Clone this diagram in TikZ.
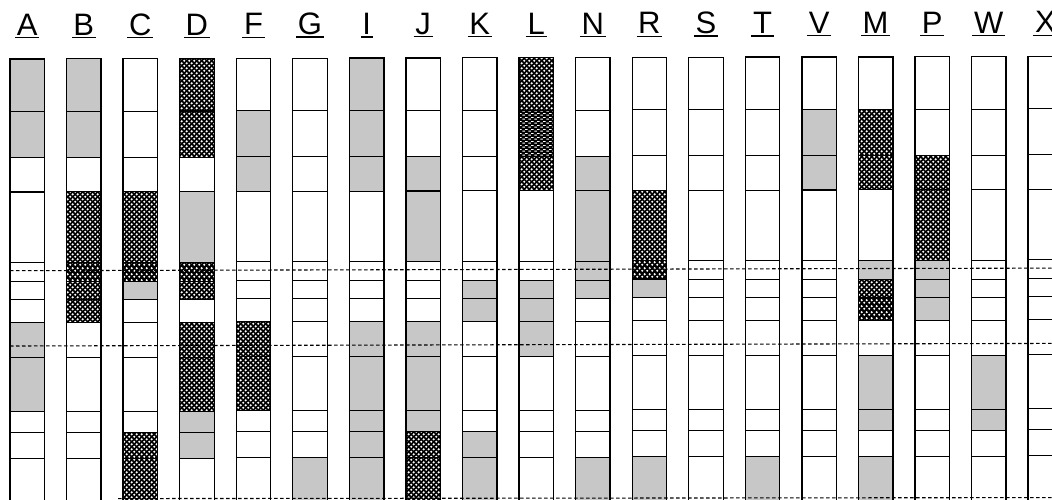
\documentclass[tikz,border=0pt]{standalone}
\usepackage{fontspec}
\setmainfont{Liberation Sans}
\usetikzlibrary{patterns}
\pgfdeclarepatternformonly{checkdots}{\pgfqpoint{0pt}{0pt}}{\pgfqpoint{5.4pt}{5.4pt}}{\pgfqpoint{5.4pt}{5.4pt}}{%
  \pgfpathcircle{\pgfqpoint{1.35pt}{1.35pt}}{1.3pt}%
  \pgfpathcircle{\pgfqpoint{4.05pt}{4.05pt}}{1.3pt}%
  \pgfusepath{fill}}
\pgfdeclarepatternformonly{darkdash}{\pgfqpoint{0pt}{0pt}}{\pgfqpoint{6pt}{4pt}}{\pgfqpoint{6pt}{4pt}}{%
  \pgfpathrectangle{\pgfqpoint{0.5pt}{0.6pt}}{\pgfqpoint{2.8pt}{1.0pt}}%
  \pgfpathrectangle{\pgfqpoint{3.5pt}{2.6pt}}{\pgfqpoint{2.8pt}{1.0pt}}%
  \pgfusepath{fill}}
\tikzset{
  segw/.style={},
  segg/.style={fill=black!22},
  segc/.style={fill=black, postaction={pattern=checkdots, pattern color=white}},
  segd/.style={fill=black, postaction={pattern=darkdash, pattern color=white}},
  barline/.style={draw=black, line width=1.3pt},
  divline/.style={draw=black, line width=1.1pt},
  refline/.style={draw=black, line width=1.1pt, dash pattern=on 3.5pt off 2.5pt},
  lbl/.style={font=\fontsize{31}{31}\selectfont, inner sep=0pt, inner xsep=1.5pt, anchor=base},
  ul/.style={draw=black, line width=1.3pt}
}
\begin{document}
\begin{tikzpicture}[x=1pt, y=-1pt]
\useasboundingbox (0,0) rectangle (1052,500);
\clip (0,0) rectangle (1052,500);
\fill[white] (0,0) rectangle (1052,500);
\foreach \lab/\codes [count=\c from 0] in {
  A/{g,g,w,w,w,w,w,g,g,w,w,w},
  B/{g,g,w,c,c,c,c,w,w,w,w,w},
  C/{w,w,w,c,c,g,w,w,w,w,c,c},
  D/{c,c,w,g,c,c,w,c,c,g,g,w},
  F/{w,g,g,w,w,w,w,c,c,w,w,w},
  G/{w,w,w,w,w,w,w,w,w,w,w,g},
  I/{g,g,g,w,w,w,w,g,g,g,g,g},
  J/{w,w,g,g,w,w,w,g,g,g,c,c},
  K/{w,w,w,w,w,g,g,w,w,w,g,g},
  L/{c,d,c,w,w,g,g,g,w,w,w,w},
  N/{w,w,g,g,g,g,w,w,w,w,w,g},
  R/{w,w,w,c,c,g,w,w,w,w,w,g},
  S/{w,w,w,w,w,w,w,w,w,w,w,w},
  T/{w,w,w,w,w,w,w,w,w,w,w,g},
  V/{w,g,g,w,w,w,w,w,w,w,w,w},
  M/{w,c,c,w,g,c,c,w,g,g,w,g},
  P/{w,w,c,c,g,g,g,w,w,w,w,w},
  W/{w,w,w,w,w,w,w,w,g,g,w,w},
  X/{w,w,w,w,w,w,w,w,w,w,w,w}} {
  \pgfmathsetmacro\xl{10+56.56*\c}
  \pgfmathsetmacro\xr{\xl+34.5}
  \pgfmathsetmacro\dy{-0.0025*\xl}
  % segments
  \foreach \code [count=\k from 0] in \codes {
    \pgfmathsetmacro\ya{{59,111.5,157.5,192,262.5,281.5,299.5,322.5,357.5,411.5,432.5,458.5,512}[\k]+\dy}
    \pgfmathsetmacro\yb{{59,111.5,157.5,192,262.5,281.5,299.5,322.5,357.5,411.5,432.5,458.5,512}[\k+1]+\dy}
    \path[seg\code] (\xl,\ya) rectangle (\xr,\yb);
  }
  % dividers
  \foreach \yy in {111.5,157.5,192,262.5,281.5,299.5,322.5,357.5,411.5,432.5,458.5} {
    \draw[divline] (\xl,{\yy+\dy}) -- (\xr,{\yy+\dy});
  }
  % outline
  \draw[barline] (\xl,{59+\dy}) rectangle (\xr,512);
  % label
  \node[lbl] (lab\lab) at ({\xl+17.25},{35.5+\dy}) {\lab};
  \draw[ul] ([yshift=-2.3pt]lab\lab.base west) -- ([yshift=-2.3pt]lab\lab.base east);
}
% horizontal reference lines
\coordinate (r1a) at (10,270.7);  \coordinate (r1b) at (1052,268.1);
\coordinate (r2a) at (10,346.0);  \coordinate (r2b) at (1052,343.4);
\coordinate (r3a) at (118,498.6); \coordinate (r3b) at (1052,497.6);
\draw[refline] (r1a) -- (r1b);
\draw[refline] (r2a) -- (r2b);
\draw[refline] (r3a) -- (r3b);
\end{tikzpicture}
\end{document}
